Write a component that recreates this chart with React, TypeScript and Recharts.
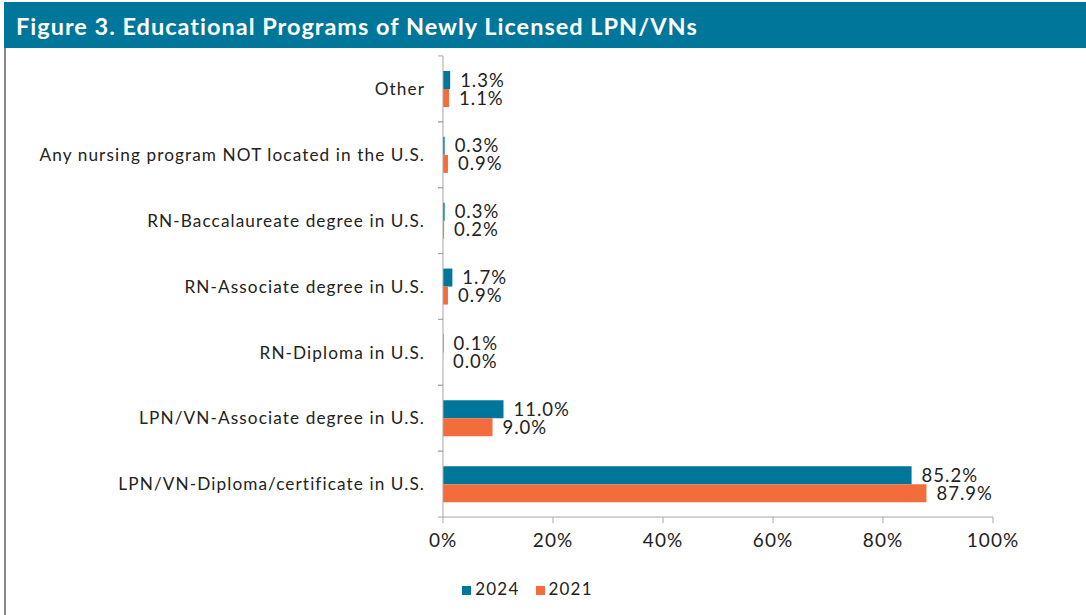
import { BarChart, Bar, XAxis, YAxis, Legend, LabelList } from "recharts";

// Categorías de arriba hacia abajo, tal como se leen en el gráfico
const programas = [
  "Other",
  "Any nursing program NOT located in the U.S.",
  "RN-Baccalaureate degree in U.S.",
  "RN-Associate degree in U.S.",
  "RN-Diploma in U.S.",
  "LPN/VN-Associate degree in U.S.",
  "LPN/VN-Diploma/certificate in U.S.",
];
const valores2024 = [1.3, 0.3, 0.3, 1.7, 0.1, 11.0, 85.2];
const valores2021 = [1.1, 0.9, 0.2, 0.9, 0.0, 9.0, 87.9];
const ticksX = [0, 20, 40, 60, 80, 100];

const TEAL = "#00769A";
const NARANJA = "#F26D3B";
const EJE = "#A6A6A6";
const TEXTO = "#222222";
const FUENTE = "Lato, 'Open Sans', sans-serif";

const datos = programas.map((p, i) => ({
  programa: p,
  y2024: valores2024[i],
  y2021: valores2021[i],
}));

const ANCHO = 1086;
const ALTO = 615;
const MARGEN = { top: 56, right: 93, bottom: 47, left: 0 };
const ALTO_EJE_X = 30;
const ANCHO_EJE_Y = 443;
const ALTO_PLOT = 462; // de y=56 a y=518

// Alto de cada banda de categoría, para poner la marquita entre categorías
const altoBanda = ALTO_PLOT / programas.length;

function TickPrograma(props: any) {
  const { x, y, payload } = props;
  const ejeX = x + 18;
  const mitad = altoBanda / 2;
  return (
    <g>
      <line x1={ejeX - 5} x2={ejeX} y1={y - mitad} y2={y - mitad} stroke={EJE} />
      <line x1={ejeX - 5} x2={ejeX} y1={y + mitad} y2={y + mitad} stroke={EJE} />
      <text
        x={x}
        y={y}
        dy={6.2}
        textAnchor="end"
        fill={TEXTO}
        fontSize={17.2}
        fontFamily={FUENTE}
        letterSpacing={1.1}
      >
        {payload.value}
      </text>
    </g>
  );
}

const fmt = (v: any) => `${Number(v).toFixed(1)}%`;
// el 0.0% no tiene barra visible pero sí etiqueta
const minimo = (v: any) => (Number(v) === 0 ? 0.01 : 0);

export default function App() {
  return (
    <div style={{ position: "fixed", left: 0, top: 0, width: ANCHO, height: ALTO, background: "#fff", fontFamily: FUENTE }}>
      <div
        style={{
          position: "absolute",
          left: 4,
          top: 2,
          width: ANCHO - 4,
          height: 46,
          background: TEAL,
          color: "#fff",
          fontWeight: 700,
          fontSize: 23.5,
          letterSpacing: 1,
          lineHeight: "48px",
          paddingLeft: 12,
          boxSizing: "border-box",
          overflow: "hidden",
        }}
      >
        Figure 3. Educational Programs of Newly Licensed LPN/VNs
      </div>
      <div style={{ position: "absolute", left: 4, top: 48, width: 2, height: ALTO - 48, background: "#888" }} />
      <div style={{ position: "absolute", left: 0, top: 0 }}>
        <BarChart
          width={ANCHO}
          height={ALTO}
          data={datos}
          layout="vertical"
          margin={MARGEN}
          barGap={0}
        >
          <XAxis
            type="number"
            domain={[0, 100]}
            ticks={ticksX}
            tickFormatter={(v) => `${v}%`}
            height={ALTO_EJE_X}
            stroke={EJE}
            tickSize={6}
            tickMargin={11}
            tick={{ fill: TEXTO, fontSize: 19, fontFamily: FUENTE, letterSpacing: 1 }}
          />
          <YAxis
            type="category"
            dataKey="programa"
            width={ANCHO_EJE_Y}
            stroke={EJE}
            tickLine={false}
            tickSize={6}
            tickMargin={12}
            interval={0}
            tick={<TickPrograma />}
          />
          <Legend
            verticalAlign="bottom"
            iconType="square"
            iconSize={9}
            itemSorter={(item: any) => -Number(item.value)}
            wrapperStyle={{ bottom: 16, left: 39, fontSize: 17, fontFamily: FUENTE, letterSpacing: 1.2 }}
            formatter={(v) => <span style={{ color: TEXTO, paddingRight: 6 }}>{v}</span>}
          />
          <Bar dataKey="y2024" name="2024" fill={TEAL} barSize={18} isAnimationActive={false}>
            <LabelList
              dataKey="y2024"
              position="right"
              offset={10}
              formatter={fmt}
              fill={TEXTO}
              fontSize={18.5}
              fontFamily={FUENTE}
              letterSpacing={1}
            />
          </Bar>
          <Bar dataKey="y2021" name="2021" fill={NARANJA} barSize={18} minPointSize={minimo} isAnimationActive={false}>
            <LabelList
              dataKey="y2021"
              position="right"
              offset={10}
              formatter={fmt}
              fill={TEXTO}
              fontSize={18.5}
              fontFamily={FUENTE}
              letterSpacing={1}
            />
          </Bar>
        </BarChart>
      </div>
    </div>
  );
}
